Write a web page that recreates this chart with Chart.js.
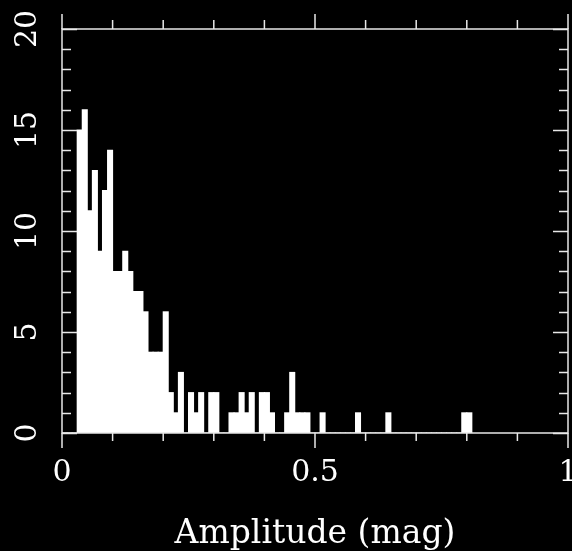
<!DOCTYPE html>
<html><head><meta charset="utf-8">
<script src="https://cdn.jsdelivr.net/npm/chart.js@4/dist/chart.umd.min.js"></script>
<style>html,body{margin:0;padding:0;background:#000;}#wrap{width:572px;height:551px;position:relative;}</style>
</head><body><div id="wrap"><canvas id="c" width="572" height="551"></canvas></div>
<script>
// Histogram of amplitudes: bins of width 0.01 mag starting at 0.00
const binStart = 0.0;
const binWidth = 0.01;
const counts = [
  0, 0, 0, 15, 16, 11, 13, 9, 12, 14,   // 0.00-0.09
  8, 8, 9, 8, 7, 7, 6, 4, 4, 4,         // 0.10-0.19
  6, 2, 1, 3, 0, 2, 1, 2, 0, 2,         // 0.20-0.29
  2, 0, 0, 1, 1, 2, 1, 2, 0, 2,         // 0.30-0.39
  2, 1, 0, 0, 1, 3, 1, 1, 1, 0,         // 0.40-0.49
  0, 1, 0, 0, 0, 0, 0, 0, 1, 0,         // 0.50-0.59
  0, 0, 0, 0, 1, 0, 0, 0, 0, 0,         // 0.60-0.69
  0, 0, 0, 0, 0, 0, 0, 0, 0, 1,         // 0.70-0.79
  1                                     // 0.80
];
const xTickValues = [0, 0.1, 0.2, 0.3, 0.4, 0.5, 0.6, 0.7, 0.8, 0.9, 1];
const xMajorTicks = [0, 0.5, 1];
const yTickValues = [0,1,2,3,4,5,6,7,8,9,10,11,12,13,14,15,16,17,18,19,20];
const yLabelValues = [0, 5, 10, 15, 20];
const xTitle = 'Amplitude (mag)';

const histData = counts.map((c, i) => ({ x: binStart + (i + 0.5) * binWidth, y: c }));
const FONT = '"DejaVu Serif", "Liberation Serif", serif';

const framePlugin = {
  id: 'frame',
  beforeDraw(chart) {
    const ctx = chart.ctx;
    ctx.save(); ctx.fillStyle = '#000'; ctx.fillRect(0, 0, chart.width, chart.height); ctx.restore();
  },
  afterDraw(chart) {
    const { ctx, chartArea: a, scales: { x, y } } = chart;
    ctx.save();
    ctx.strokeStyle = '#e8e8e8';
    ctx.lineWidth = 1.5;
    ctx.strokeRect(a.left, a.top, a.right - a.left, a.bottom - a.top);
    ctx.beginPath();
    yTickValues.forEach(v => {
      const py = Math.round(y.getPixelForValue(v)) + 0.5;
      const L = (v % 5 === 0) ? 15 : 9;
      ctx.moveTo(a.left, py); ctx.lineTo(a.left + L, py);
      ctx.moveTo(a.right, py); ctx.lineTo(a.right - L, py);
    });
    xTickValues.forEach(v => {
      const px = x.getPixelForValue(v);
      const major = xMajorTicks.includes(v);
      ctx.moveTo(px, a.bottom); ctx.lineTo(px, a.bottom + (major ? 15 : 8));
      ctx.moveTo(px, a.top); ctx.lineTo(px, a.top - (major ? 15 : 9));
    });
    ctx.stroke();
    ctx.fillStyle = '#fff';
    ctx.font = '30px ' + FONT;
    ctx.textAlign = 'center';
    ctx.textBaseline = 'middle';
    yLabelValues.forEach(v => {
      const py = y.getPixelForValue(v);
      ctx.save(); ctx.translate(28, py); ctx.rotate(-Math.PI / 2);
      ctx.fillText(String(v), 0, 0); ctx.restore();
    });
    ctx.restore();
  }
};

new Chart(document.getElementById('c'), {
  type: 'bar',
  data: {
    datasets: [{
      data: histData,
      backgroundColor: '#ffffff',
      borderWidth: 0,
      inflateAmount: 0.5,
      barPercentage: 1,
      categoryPercentage: 1,
      grouped: false
    }]
  },
  options: {
    responsive: false,
    animation: false,
    events: [],
    layout: { padding: { top: 29, right: 4, left: 0, bottom: 0 } },
    plugins: { legend: { display: false }, tooltip: { enabled: false } },
    scales: {
      x: {
        type: 'linear', min: 0, max: 1, offset: false,
        afterFit(s) { s.height = 118; s.paddingLeft = 0; s.paddingRight = 0; },
        grid: { display: false, drawTicks: false },
        border: { display: false },
        afterBuildTicks(s) { s.ticks = xMajorTicks.map(v => ({ value: v })); },
        ticks: {
          color: '#fff', padding: 22, maxRotation: 0, autoSkip: false,
          font: { family: FONT, size: 30 },
          callback: v => String(v)
        },
        title: {
          display: true, text: xTitle, color: '#fff',
          font: { family: FONT, size: 33, lineHeight: 1 },
          padding: { top: 0, bottom: 0 }
        }
      },
      y: {
        min: 0, max: 20,
        afterFit(s) { s.width = 62; },
        grid: { display: false, drawTicks: false },
        border: { display: false },
        ticks: { display: false, stepSize: 1 }
      }
    }
  },
  plugins: [framePlugin]
});
</script></body></html>
